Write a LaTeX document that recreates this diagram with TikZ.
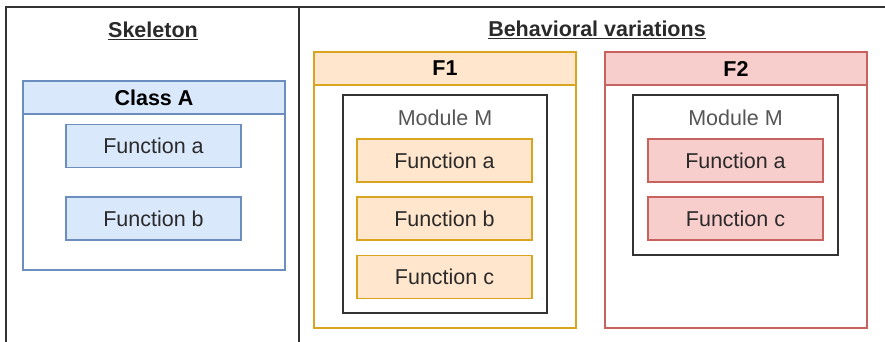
\documentclass[tikz,border=0pt]{standalone}
\usepackage{fontspec}
\setmainfont{Liberation Sans}
\definecolor{bluefill}{HTML}{DAE8FC}
\definecolor{bluedraw}{HTML}{6C8EBF}
\definecolor{orangefill}{HTML}{FFE6CC}
\definecolor{orangedraw}{HTML}{D9A520}
\definecolor{redfill}{HTML}{F8CECC}
\definecolor{reddraw}{HTML}{C8625E}
\definecolor{framecol}{HTML}{333333}
\definecolor{txtcol}{HTML}{2A2A2A}
\definecolor{modtxt}{HTML}{555555}
\tikzset{
  box/.style={rectangle, inner sep=0pt, line width=1.3pt},
  hdr/.style={box, minimum width=262pt, minimum height=33pt, font=\fontsize{21.5}{25}\selectfont\bfseries, text=black},
  func/.style={box, minimum width=175pt, minimum height=43pt, font=\fontsize{21.5}{25}\selectfont, text=txtcol},
  bluec/.style={draw=bluedraw, fill=bluefill},
  orangec/.style={draw=orangedraw, fill=orangefill},
  redc/.style={draw=reddraw, fill=redfill},
  module/.style={box, draw=framecol, fill=white},
  modlabel/.style={font=\fontsize{21.5}{25}\selectfont, text=modtxt, inner sep=0pt},
  title/.style={font=\fontsize{21.5}{25}\selectfont\bfseries, text=txtcol, inner sep=0pt},
  frame/.style={draw=framecol, line width=1.4pt}
}
\begin{document}
\begin{tikzpicture}[x=1pt,y=-1pt]
\useasboundingbox (0,0) rectangle (885,342);
\fill[white] (0,0) rectangle (885,342);
% outer frame
\coordinate (bl) at (6,342);
\coordinate (tl) at (6,7);
\coordinate (tr) at (885,7);
\coordinate (dt) at (299,7);
\coordinate (db) at (299,342);
\draw[frame] (bl) -- (tl) -- (tr);
\draw[frame] (dt) -- (db);
% titles
\node[title] (sk) at (153,31) {\underline{Skeleton}};
\node[title] (bv) at (597,30) {\underline{Behavioral variations}};
% Class A
\node[box, draw=bluedraw, fill=white, minimum width=262pt, minimum height=156pt] (cabody) at (154,192) {};
\node[hdr, bluec] (cahdr) at (154,97.5) {Class A};
\node[func, bluec] (cafa) at (153.5,146) {Function a};
\node[func, bluec] (cafb) at (153.5,218.5) {Function b};
% F1
\node[box, draw=orangedraw, fill=white, minimum width=262pt, minimum height=243pt] (f1body) at (445,206.5) {};
\node[hdr, orangec] (f1hdr) at (445,68.5) {F1};
\node[module, minimum width=204pt, minimum height=218pt] (f1mod) at (445,204) {};
\node[modlabel] (f1modt) at (445,118) {Module M};
\node[func, orangec] (f1fa) at (444.5,160.5) {Function a};
\node[func, orangec] (f1fb) at (444.5,218.5) {Function b};
\node[func, orangec] (f1fc) at (444.5,277) {Function c};
% F2
\node[box, draw=reddraw, fill=white, minimum width=262pt, minimum height=243pt] (f2body) at (736,206.5) {};
\node[hdr, redc] (f2hdr) at (736,68.5) {F2};
\node[module, minimum width=205pt, minimum height=160pt] (f2mod) at (735.5,175) {};
\node[modlabel] (f2modt) at (735.5,118) {Module M};
\node[func, redc] (f2fa) at (735.5,160.5) {Function a};
\node[func, redc] (f2fc) at (735.5,218.5) {Function c};
\end{tikzpicture}
\end{document}
